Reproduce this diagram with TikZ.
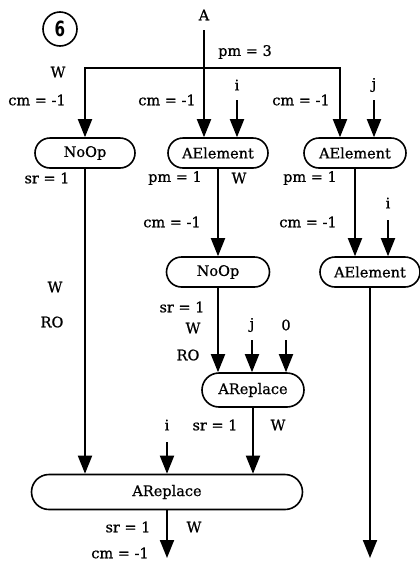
\documentclass[tikz,border=0pt]{standalone}
\usepackage{fontspec}
\setmainfont{DejaVu Serif}[FakeBold=0.8]
\newfontfamily\digitfont{DejaVu Sans Condensed}
\usetikzlibrary{arrows.meta,shapes.misc}
\begin{document}
\begin{tikzpicture}[x=1pt,y=-1pt,
  every node/.style={font=\fontsize{14.5}{16}\selectfont, inner sep=0pt},
  opbox/.style={draw, rounded rectangle, line width=1.6pt, minimum height=30pt},
  lbl/.style={},
  flow/.style={line width=1.9pt, -{Triangle[length=18pt,width=14pt]}},
  wire/.style={line width=1.9pt}]
\useasboundingbox (0,0) rectangle (420,563);

% step number
\node[draw, circle, line width=1.6pt, minimum size=34pt] (num) at (60,29)
  {\scalebox{0.8}[1]{\digitfont\bfseries\fontsize{21}{21}\selectfont 6}};

% operator boxes
\node[opbox, minimum width=100pt] (noopA) at (85,153) {NoOp};
\node[opbox, minimum width=100pt] (elemA) at (218,153) {AElement};
\node[opbox, minimum width=102pt] (elemB) at (355,153) {AElement};
\node[opbox, minimum width=103pt] (noopB) at (218,272) {NoOp};
\node[opbox, minimum width=100pt] (elemC) at (370,272) {AElement};
\node[opbox, minimum width=102pt, minimum height=34pt] (replA) at (253,390) {AReplace};
\node[opbox, minimum width=271pt, minimum height=35pt] (replB) at (167,492) {AReplace};

% inputs and branch points
\node (srcA) at (204,15) {A};
\coordinate (srcAend) at (204,30);
\coordinate (fork) at (204,68);
\coordinate (forkL) at (85,68);
\coordinate (forkR) at (340,68);
\coordinate (inI1) at (237,100);
\coordinate (inJ1) at (374,100);
\coordinate (inI2) at (388,220);
\coordinate (inJ2) at (252,340);
\coordinate (inZero) at (286,340);
\coordinate (inI3) at (167,442);
\coordinate (outB) at (167,558);
\coordinate (outC) at (371,558);

% connectors
\draw[flow] (srcAend) -- (srcAend |- elemA.north);
\draw[wire, line cap=rect] (forkL) -- (forkR);
\draw[flow] (forkL) -- (forkL |- noopA.north);
\draw[flow] (forkR) -- (forkR |- elemB.north);
\draw[flow] (inI1) -- (inI1 |- elemA.north);
\draw[flow] (inJ1) -- (inJ1 |- elemB.north);
\draw[flow] (elemA.south) -- (noopB.north);
\draw[flow] (elemB.south) -- (elemB.south |- elemC.north);
\draw[flow] (inI2) -- (inI2 |- elemC.north);
\draw[flow] (noopB.south) -- (noopB.south |- replA.north);
\draw[flow] (inJ2) -- (inJ2 |- replA.north);
\draw[flow] (inZero) -- (inZero |- replA.north);
\draw[flow] (noopA.south) -- (noopA.south |- replB.north);
\draw[flow] (replA.south) -- (replA.south |- replB.north);
\draw[flow] (inI3) -- (inI3 |- replB.north);
\draw[flow] (replB.south) -- (outB);
\draw[flow] (elemC.south) -- (elemC.south |- outC);

% labels
\node[lbl] (l1) at (245,52) {pm = 3};
\node[lbl] (l2) at (58,72) {W};
\node[lbl] (l3) at (37,100) {cm = -1};
\node[lbl] (l4) at (167,100) {cm = -1};
\node[lbl] (l5) at (301,100) {cm = -1};
\node[lbl] (l6) at (237,85) {i};
\node[lbl] (l7) at (374,85) {j};
\node[lbl] (l8) at (47,178) {sr = 1};
\node[lbl] (l9) at (175,178) {pm = 1};
\node[lbl] (l10) at (239,178) {W};
\node[lbl] (l11) at (310,178) {pm = 1};
\node[lbl] (l12) at (172,222) {cm = -1};
\node[lbl] (l13) at (308,222) {cm = -1};
\node[lbl] (l14) at (388,203) {i};
\node[lbl] (l15) at (55,287) {W};
\node[lbl] (l16) at (52,322) {RO};
\node[lbl] (l17) at (182,307) {sr = 1};
\node[lbl] (l18) at (193,328) {W};
\node[lbl] (l19) at (188,355) {RO};
\node[lbl] (l20) at (252,325) {j};
\node[lbl] (l21) at (286,325) {0};
\node[lbl] (l22) at (167,425) {i};
\node[lbl] (l23) at (215,425) {sr = 1};
\node[lbl] (l24) at (278,425) {W};
\node[lbl] (l25) at (128,527) {sr = 1};
\node[lbl] (l26) at (194,527) {W};
\node[lbl] (l27) at (120,553) {cm = -1};
\end{tikzpicture}
\end{document}
